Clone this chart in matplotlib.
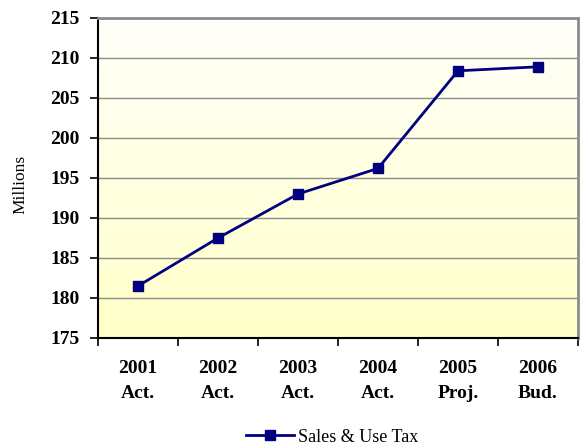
import numpy as np
import matplotlib.pyplot as plt
from matplotlib.colors import LinearSegmentedColormap

# Sales & Use Tax, in millions
years = ['2001', '2002', '2003', '2004', '2005', '2006']
kinds = ['Act.', 'Act.', 'Act.', 'Act.', 'Proj.', 'Bud.']
sales_use_tax = [181.5, 187.5, 193.0, 196.2, 208.4, 208.9]
y_ticks = list(range(175, 216, 5))

plt.rcParams['font.family'] = ['Liberation Serif', 'DejaVu Serif']

fig = plt.figure(figsize=(5.8, 4.46), dpi=100)
ax = fig.add_axes([98 / 580, 108 / 446, 480 / 580, 320 / 446])

n = len(years)
x = np.arange(n)
ax.set_xlim(-0.5, n - 0.5)
ax.set_ylim(175, 215)

# pale yellow (bottom) to near white (top) gradient behind the plot
grad = np.linspace(0, 1, 256).reshape(-1, 1)
cmap = LinearSegmentedColormap.from_list('bg', ['#ffffc8', '#fffffa'])
ax.imshow(grad, aspect='auto', cmap=cmap, extent=(-0.5, n - 0.5, 175, 215),
          origin='lower', zorder=0, interpolation='bicubic')

ax.set_yticks(y_ticks)
ax.set_yticklabels([str(t) for t in y_ticks], fontsize=14, fontweight='bold')
ax.yaxis.grid(True, color='#8c8c8c', linewidth=1.0)
ax.set_axisbelow(True)

line, = ax.plot(x, sales_use_tax, color='#000080', linewidth=2.0, marker='s',
                markersize=7, zorder=3, label='Sales & Use Tax')

# category labels at centers, tick marks at the boundaries
ax.set_xticks(x)
ax.set_xticklabels([f'{y}\n{k}' for y, k in zip(years, kinds)],
                   fontsize=14, fontweight='bold', linespacing=1.6)
ax.tick_params(axis='x', which='major', length=0, pad=16)
ax.set_xticks(np.arange(-0.5, n, 1), minor=True)
ax.tick_params(axis='x', which='minor', length=6, width=1.2, direction='out')
ax.tick_params(axis='y', length=6, width=1.2, pad=7)

for side in ['left', 'bottom']:
    ax.spines[side].set_color('black')
    ax.spines[side].set_linewidth(1.5)
for side in ['top', 'right']:
    ax.spines[side].set_color('#8c8c8c')
    ax.spines[side].set_linewidth(2.0)

fig.text(20 / 580, 1 - 184 / 446, 'Millions', rotation=90, fontsize=12.5,
         ha='center', va='center')

fig.legend(handles=[line], loc='center', bbox_to_anchor=(332 / 580, 1 - 437 / 446),
           frameon=False, fontsize=13, handlelength=2.7, handletextpad=0.2)

fig.savefig('out.png', dpi=100)
